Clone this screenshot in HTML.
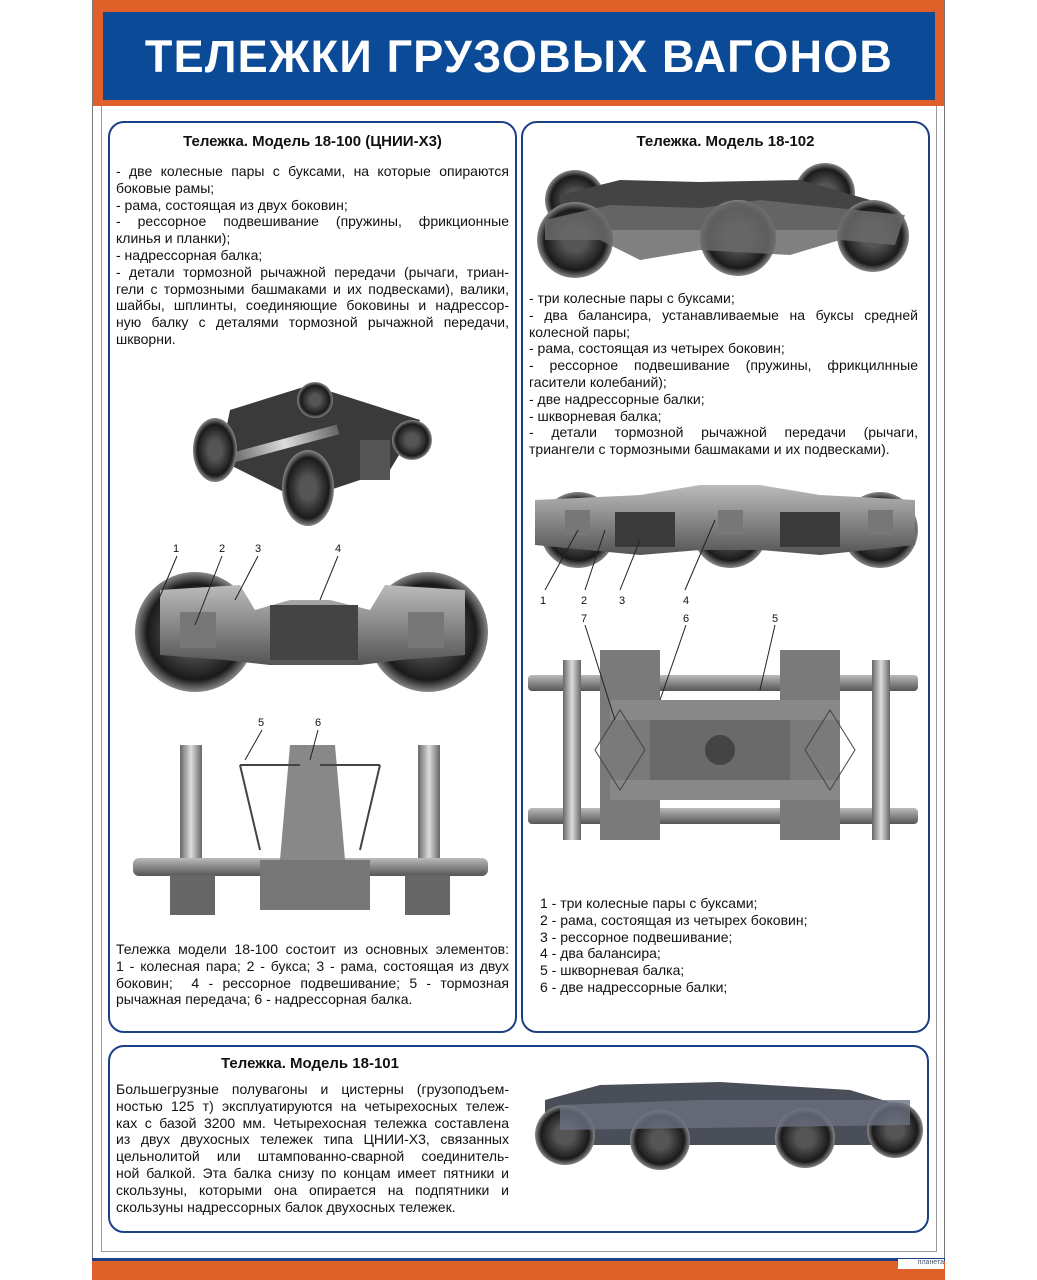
<!DOCTYPE html>
<html><head><meta charset="utf-8"><style>
body{margin:0;width:1037px;height:1280px;background:#fff;position:relative;overflow:hidden;font-family:"Liberation Sans",sans-serif;}
.abs{position:absolute}
.panel{position:absolute;border:2px solid #1d3f86;border-radius:16px;box-sizing:border-box}
.t{position:absolute;font-size:14px;line-height:16.8px;color:#111}
.t div{white-space:nowrap;height:16.8px}
.t .j{text-align:justify;text-align-last:justify}
.h{position:absolute;font-weight:bold;font-size:15px;color:#111;text-align:center}
.n{position:absolute;font-size:11px;color:#111}
</style></head><body>
<div class="abs" style="left:92px;top:0;width:853px;height:1280px;background:#fff"></div>
<div class="abs" style="left:92px;top:0;width:853px;height:103px;background:#e0602a"></div>
<div class="abs" style="left:103px;top:12px;width:832px;height:88px;background:#0b4a96"></div>
<div class="abs" style="left:92px;top:102px;width:853px;height:4px;background:#e0602a"></div>
<div class="abs" style="left:101px;top:106px;width:834px;height:1145px;border:1px solid #999;border-top:none"></div>
<div class="abs" style="left:92px;top:0;width:1px;height:1280px;background:#777"></div>
<div class="abs" style="left:944px;top:0;width:1px;height:1280px;background:#777"></div>
<div class="abs" style="left:92px;top:1258px;width:853px;height:3px;background:#1d3f86"></div>
<div class="abs" style="left:92px;top:1261px;width:853px;height:19px;background:#e0602a"></div>
<div class="abs" style="left:898px;top:1259px;width:46px;height:10px;background:#fff;font-size:7px;color:#456;text-align:right">планета</div>
<div class="abs" style="left:103px;top:27px;width:832px;text-align:center;color:#fff;font-weight:bold;font-size:45px;letter-spacing:1.2px;line-height:60px">ТЕЛЕЖКИ ГРУЗОВЫХ ВАГОНОВ</div>

<div class="panel" style="left:108px;top:121px;width:409px;height:912px"></div>
<div class="panel" style="left:521px;top:121px;width:409px;height:912px"></div>
<div class="panel" style="left:108px;top:1045px;width:821px;height:188px"></div>

<div class="h" style="left:110px;top:133px;width:405px">Тележка. Модель 18-100 (ЦНИИ-Х3)</div>
<div class="t" style="left:116px;top:163px;width:393px">
<div class="j">- две колесные пары с буксами, на которые опираются</div>
<div>боковые рамы;</div>
<div>- рама, состоящая из двух боковин;</div>
<div class="j">- рессорное подвешивание (пружины, фрикционные</div>
<div>клинья и планки);</div>
<div>- надрессорная балка;</div>
<div class="j">- детали тормозной рычажной передачи (рычаги, триан-</div>
<div class="j">гели с тормозными башмаками и их подвесками), валики,</div>
<div class="j">шайбы, шплинты, соединяющие боковины и надрессор-</div>
<div class="j">ную балку с деталями тормозной рычажной передачи,</div>
<div>шкворни.</div>
</div>

<div class="h" style="left:523px;top:133px;width:405px">Тележка. Модель 18-102</div>
<div class="t" style="left:529px;top:290px;width:389px">
<div>- три колесные пары с буксами;</div>
<div class="j">- два балансира, устанавливаемые на буксы средней</div>
<div>колесной пары;</div>
<div>- рама, состоящая из четырех боковин;</div>
<div class="j">- рессорное подвешивание (пружины, фрикцилнные</div>
<div>гасители колебаний);</div>
<div>- две надрессорные балки;</div>
<div>- шкворневая балка;</div>
<div class="j">- детали тормозной рычажной передачи (рычаги,</div>
<div>триангели с тормозными башмаками и их подвесками).</div>
</div>

<div class="t" style="left:116px;top:941px;width:393px">
<div class="j">Тележка модели 18-100 состоит из основных элементов:</div>
<div class="j">1 - колесная пара; 2 - букса; 3 - рама, состоящая из двух</div>
<div class="j">боковин; &nbsp;4 - рессорное подвешивание; 5 - тормозная</div>
<div>рычажная передача; 6 - надрессорная балка.</div>
</div>
<div class="t" style="left:540px;top:895px;width:380px">
<div>1 - три колесные пары с буксами;</div>
<div>2 - рама, состоящая из четырех боковин;</div>
<div>3 - рессорное подвешивание;</div>
<div>4 - два балансира;</div>
<div>5 - шкворневая балка;</div>
<div>6 - две надрессорные балки;</div>
</div>

<div class="h" style="left:110px;top:1055px;width:400px">Тележка. Модель 18-101</div>
<div class="t" style="left:116px;top:1081px;width:393px">
<div class="j">Большегрузные полувагоны и цистерны (грузоподъем-</div>
<div class="j">ностью 125 т) эксплуатируются на четырехосных тележ-</div>
<div class="j">ках с базой 3200 мм. Четырехосная тележка составлена</div>
<div class="j">из двух двухосных тележек типа ЦНИИ-Х3, связанных</div>
<div class="j">цельнолитой или штампованно-сварной соединитель-</div>
<div class="j">ной балкой. Эта балка снизу по концам имеет пятники и</div>
<div class="j">скользуны, которыми она опирается на подпятники и</div>
<div>скользуны надрессорных балок двухосных тележек.</div>
</div>

<svg class="abs" style="left:0;top:0" width="1037" height="1280">
<defs>
<radialGradient id="w" cx="50%" cy="50%" r="50%"><stop offset="0.3" stop-color="#555"/><stop offset="0.8" stop-color="#1a1a1a"/><stop offset="1" stop-color="#888"/></radialGradient>
<linearGradient id="m" x1="0" y1="0" x2="0" y2="1"><stop offset="0" stop-color="#bbb"/><stop offset="1" stop-color="#555"/></linearGradient>
<linearGradient id="ax" x1="0" y1="0" x2="1" y2="0"><stop offset="0" stop-color="#666"/><stop offset=".5" stop-color="#ddd"/><stop offset="1" stop-color="#666"/></linearGradient>
</defs>
<g>
<circle cx="575" cy="200" r="30" fill="url(#w)"/><circle cx="825" cy="193" r="30" fill="url(#w)"/>
<path d="M560 195 L620 180 L700 182 L800 180 L870 200 L870 230 L560 230Z" fill="#444"/>
<circle cx="575" cy="240" r="38" fill="url(#w)"/><circle cx="738" cy="238" r="38" fill="url(#w)"/><circle cx="873" cy="236" r="36" fill="url(#w)"/>
<path d="M545 220 L610 205 L700 208 L760 200 L905 215 L895 245 L840 240 L790 255 L700 250 L640 260 L600 240 L545 240Z" fill="#6a6a6a" opacity=".85"/>
</g>
<g>
<path d="M230 410 L310 385 L420 420 L390 470 L300 500 L220 460Z" fill="#3a3a3a"/>
<rect x="230" y="440" width="110" height="10" fill="url(#ax)" transform="rotate(-15 280 445)"/>
<circle cx="315" cy="400" r="18" fill="url(#w)"/><circle cx="412" cy="440" r="20" fill="url(#w)"/>
<ellipse cx="215" cy="450" rx="22" ry="32" fill="url(#w)"/><ellipse cx="308" cy="488" rx="26" ry="38" fill="url(#w)"/>
<rect x="360" y="440" width="30" height="40" fill="#555"/>
</g>
<g>
<circle cx="195" cy="632" r="60" fill="url(#w)"/><circle cx="428" cy="632" r="60" fill="url(#w)"/>
<path d="M160 590 L240 585 L255 610 L290 600 L330 600 L370 610 L385 585 L465 590 L465 655 L400 660 L360 665 L320 665 L270 665 L225 660 L160 655Z" fill="url(#m)"/>
<rect x="270" y="605" width="88" height="55" fill="#444"/>
<rect x="180" y="612" width="36" height="36" fill="#777"/><rect x="408" y="612" width="36" height="36" fill="#777"/>
</g>
<g>
<rect x="180" y="745" width="22" height="120" fill="url(#ax)"/><rect x="418" y="745" width="22" height="120" fill="url(#ax)"/>
<rect x="133" y="858" width="355" height="18" rx="6" fill="url(#m)"/>
<rect x="170" y="875" width="45" height="40" fill="#666"/><rect x="405" y="875" width="45" height="40" fill="#666"/>
<path d="M290 745 L335 745 L345 860 L280 860Z" fill="#888"/>
<rect x="260" y="860" width="110" height="50" fill="#777"/>
<path d="M240 765 L260 850 M380 765 L360 850 M240 765 L300 765 M320 765 L380 765" stroke="#444" stroke-width="2" fill="none"/>
</g>
<g>
<circle cx="578" cy="530" r="38" fill="url(#w)"/><circle cx="730" cy="530" r="38" fill="url(#w)"/><circle cx="880" cy="530" r="38" fill="url(#w)"/>
<path d="M535 500 L640 495 L700 485 L760 485 L820 495 L915 500 L915 545 L820 555 L760 550 L700 550 L640 555 L535 545Z" fill="url(#m)"/>
<rect x="615" y="512" width="60" height="35" fill="#3a3a3a"/><rect x="780" y="512" width="60" height="35" fill="#3a3a3a"/>
<rect x="565" y="510" width="25" height="25" fill="#777"/><rect x="718" y="510" width="25" height="25" fill="#777"/><rect x="868" y="510" width="25" height="25" fill="#777"/>
</g>
<g>
<rect x="528" y="675" width="390" height="16" rx="4" fill="url(#m)"/><rect x="528" y="808" width="390" height="16" rx="4" fill="url(#m)"/>
<rect x="563" y="660" width="18" height="180" fill="url(#ax)"/><rect x="872" y="660" width="18" height="180" fill="url(#ax)"/>
<rect x="600" y="650" width="60" height="190" fill="#7a7a7a"/><rect x="780" y="650" width="60" height="190" fill="#7a7a7a"/>
<rect x="650" y="700" width="140" height="100" fill="#6a6a6a"/>
<rect x="610" y="700" width="230" height="20" fill="#888"/><rect x="610" y="780" width="230" height="20" fill="#888"/>
<circle cx="720" cy="750" r="15" fill="#444"/>
<path d="M595 750 L620 710 L645 750 L620 790Z M805 750 L830 710 L855 750 L830 790Z" fill="none" stroke="#444"/>
</g>
<g>
<path d="M545 1100 L600 1085 L720 1082 L850 1090 L915 1110 L915 1145 L545 1145Z" fill="#4a4e58"/>
<circle cx="565" cy="1135" r="30" fill="url(#w)"/><circle cx="660" cy="1140" r="30" fill="url(#w)"/><circle cx="805" cy="1138" r="30" fill="url(#w)"/><circle cx="895" cy="1130" r="28" fill="url(#w)"/>
<path d="M560 1105 L700 1100 L760 1100 L910 1100 L910 1125 L560 1130Z" fill="#6c7080" opacity=".8"/>
</g>
<g stroke="#222" stroke-width="1" fill="none">
<path d="M177 556 L150 620 M222 556 L195 625 M258 556 L235 600 M338 556 L320 600"/>
<path d="M262 730 L245 760 M318 730 L310 760"/>
<path d="M545 590 L578 530 M585 590 L605 530 M620 590 L640 540 M685 590 L715 520"/>
<path d="M585 625 L615 720 M686 625 L660 700 M775 625 L760 690"/>
</g>
</svg>
<div class="n" style="left:173px;top:543px">1</div><div class="n" style="left:219px;top:543px">2</div><div class="n" style="left:255px;top:543px">3</div><div class="n" style="left:335px;top:543px">4</div>
<div class="n" style="left:258px;top:717px">5</div><div class="n" style="left:315px;top:717px">6</div>
<div class="n" style="left:540px;top:595px">1</div><div class="n" style="left:581px;top:595px">2</div><div class="n" style="left:619px;top:595px">3</div><div class="n" style="left:683px;top:595px">4</div>
<div class="n" style="left:581px;top:613px">7</div><div class="n" style="left:683px;top:613px">6</div><div class="n" style="left:772px;top:613px">5</div>
</body></html>
